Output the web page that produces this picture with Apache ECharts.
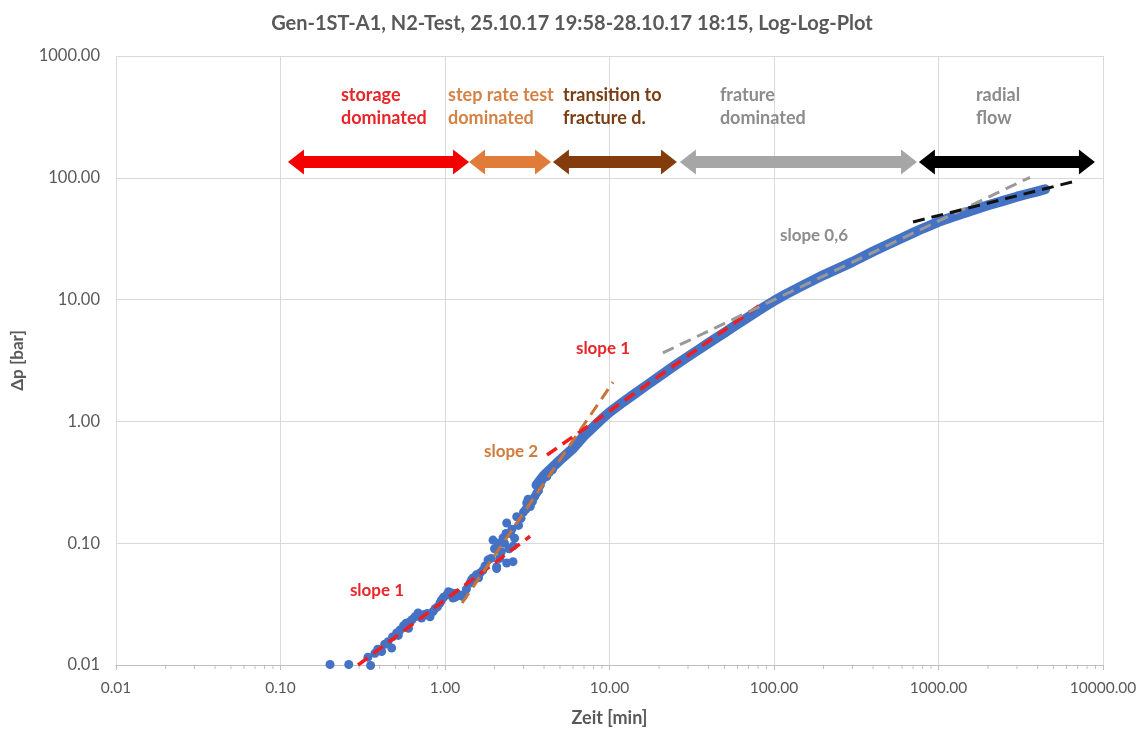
<!DOCTYPE html>
<html>
<head>
<meta charset="utf-8">
<script src="https://cdn.jsdelivr.net/npm/echarts@6/dist/echarts.min.js"></script>
<style>
html,body{margin:0;padding:0;background:#fff;}
#chart{width:1144px;height:733px;}
</style>
</head>
<body>
<div id="chart"></div>
<script>
// ---------- data ----------
// scattered early measurements [time min, dp bar]
const scatterTime = [0.20,0.26,0.353,0.34,0.375,0.39,0.412,0.43,0.45,0.474,0.48,0.508,0.52,0.533,0.56,0.58,0.60,0.612,0.63,0.657,0.686,0.70,0.721,0.75,0.78,0.811,0.845,0.87,0.90,0.932,0.95,0.98,1.024,1.05,1.10,1.118,1.15,1.178,1.20,1.286,1.30,1.35,1.419,1.45,1.479,1.55,1.60,1.633,1.70,1.75,1.826,1.90,1.958,2.00,2.062,2.06,2.10,2.15,2.20,2.252,2.30,2.35,2.372,2.372,2.45,2.50,2.55,2.591,2.60,2.65,2.729,2.80,2.90,3.00,3.10,3.139,3.20,3.30,3.40,3.50,3.609,3.70,3.80,3.90,4.15,4.30,4.50,4.776];
const scatterDp   = [0.0101,0.0101,0.0099,0.0116,0.0125,0.0135,0.0129,0.0148,0.0155,0.0138,0.017,0.0183,0.0175,0.0194,0.021,0.022,0.020,0.0227,0.0235,0.0249,0.0267,0.025,0.0243,0.026,0.0265,0.0249,0.0274,0.029,0.030,0.0323,0.034,0.036,0.0376,0.040,0.039,0.0355,0.036,0.0388,0.037,0.0364,0.038,0.042,0.0471,0.050,0.0518,0.055,0.052,0.0569,0.060,0.065,0.0728,0.075,0.106,0.090,0.0641,0.062,0.100,0.075,0.085,0.1103,0.100,0.120,0.0688,0.1465,0.090,0.120,0.130,0.0705,0.095,0.110,0.165,0.140,0.160,0.180,0.190,0.214,0.230,0.200,0.220,0.240,0.258,0.270,0.300,0.330,0.352,0.380,0.400,0.455];
// dense measurement band
const bandTime = [3.6,4.0,4.5,5,5.5,6,7,8,9,10,12,14,17,20,25,30,35,40,50,60,70,80,90,100,120,150,200,250,300,400,500,600,700,800,1000,1200,1500,2000,2500,3000,3500,4000,4450];
const bandDp   = [0.30,0.36,0.42,0.48,0.54,0.60,0.76,0.90,1.05,1.19,1.43,1.66,2.0,2.33,2.88,3.4,3.9,4.4,5.35,6.3,7.2,8.1,8.95,9.75,11.2,13.1,15.9,18.2,20.4,24.8,28.6,32,35.3,38.3,43.5,47.5,52.5,59.5,65,70,74,77.5,80.5];
// fitted slope lines [start, end]
const slope1aTime = [0.296, 3.29],  slope1aDp = [0.0100, 0.114];
const slope2Time  = [1.27, 10.5],   slope2Dp  = [0.0323, 2.10];
const slope1bTime = [4.17, 82.2],   slope1bDp = [0.53, 9.03];
const slope06Time = [21.1, 3600],   slope06Dp = [3.65, 101];
const radialTime  = [700, 6480],    radialDp  = [43.4, 92.4];
// flow regime arrows
const regimeNames = ['storage\ndominated','step rate test\ndominated','transition to\nfracture d.','frature\ndominated','radial\nflow'];
const regimeStart = [0.111, 1.40, 4.53, 26.8, 760];
const regimeEnd   = [1.40, 4.41, 25.7, 740, 8930];
const regimeLabelTime = [0.233, 1.043, 5.22, 46.9, 1690];
const regimeArrowDp = 135;
const regimeLabelDp = 589;
// slope labels
const slopeLabels = ['slope 1','slope 2','slope 1','slope 0,6'];
const slopeLabelTime = [0.386, 2.52, 9.13, 175];
const slopeLabelDp = [0.0405, 0.571, 4.0, 33.9];
// axis ticks
const xMinorMultipliers = [2,3,4,5,6,7,8,9];
const xDecades = [0.01,0.1,1,10,100,1000];

// ---------- styles ----------
const FONT = 'Lato, "Open Sans", sans-serif';
const regimeColors = ['#F40000','#E07B39','#843C0C','#A6A6A6','#000000'];
const regimeTextColors = ['#E8262A','#D48245','#7A3E14','#8C8C8C','#8C8C8C'];
const slopeColors = ['#E8262A','#D07A3B','#E8262A','#8C8C8C'];
const BLUE = '#4472C4';

const zip = (a,b)=>a.map((v,i)=>[v,b[i]]);
const minorTicks = [];
xDecades.forEach(d=>xMinorMultipliers.forEach(m=>minorTicks.push([d*m, 0.01])));

function dashLine(name, t, p, color, width){
  return {type:'line', name, data:zip(t,p), showSymbol:false, symbol:'none', silent:true, z:5,
    lineStyle:{color, width, type:[12,7], cap:'butt'}};
}

const chart = echarts.init(document.getElementById('chart'));
chart.setOption({
  animation:false,
  backgroundColor:'#ffffff',
  title:{text:'Gen-1ST-A1, N2-Test, 25.10.17 19:58-28.10.17 18:15, Log-Log-Plot', left:'center', top:9,
    textStyle:{fontFamily:FONT, fontSize:20, fontWeight:'bold', color:'#595959'}},
  grid:{left:116, right:41, top:56, bottom:68, containLabel:false},
  xAxis:{type:'log', logBase:10, min:0.01, max:10000,
    name:'Zeit [min]', nameLocation:'middle', nameGap:44,
    nameTextStyle:{fontFamily:FONT, fontSize:18, fontWeight:'bold', color:'#595959'},
    axisLine:{show:true, lineStyle:{color:'#BFBFBF', width:1}},
    axisTick:{show:true, length:5, lineStyle:{color:'#BFBFBF'}},
    axisLabel:{formatter:v=>Number(v).toFixed(2), fontFamily:FONT, fontSize:15.5, color:'#595959', margin:15},
    splitLine:{show:true, lineStyle:{color:'#D9D9D9', width:1}}},
  yAxis:{type:'log', logBase:10, min:0.01, max:1000,
    name:'Δp [bar]', nameLocation:'middle', nameGap:90, nameRotate:90,
    nameTextStyle:{fontFamily:FONT, fontSize:17, fontWeight:'bold', color:'#595959'},
    axisLine:{show:false}, axisTick:{show:false},
    axisLabel:{formatter:v=>Number(v).toFixed(2), fontFamily:FONT, fontSize:16.5, color:'#595959', margin:16},
    splitLine:{show:true, lineStyle:{color:'#D9D9D9', width:1}}},
  series:[
    {type:'custom', name:'minorTicks', silent:true, clip:false, z:1, data:minorTicks,
      renderItem:(params, api)=>{
        const p = api.coord([api.value(0), api.value(1)]);
        return {type:'line', shape:{x1:p[0], y1:p[1], x2:p[0], y2:p[1]+4}, style:{stroke:'#BFBFBF', lineWidth:1}};
      }},
    {type:'line', name:'band', data:zip(bandTime, bandDp), showSymbol:false, symbol:'none', z:3,
      lineStyle:{color:BLUE, width:10, cap:'round', join:'round'}},
    {type:'scatter', name:'points', data:zip(scatterTime, scatterDp), symbolSize:9, clip:false, z:3,
      itemStyle:{color:BLUE, opacity:1}},
    dashLine('slope1a', slope1aTime, slope1aDp, '#F01E1E', 3.5),
    dashLine('slope2', slope2Time, slope2Dp, '#C8733A', 3),
    dashLine('slope1b', slope1bTime, slope1bDp, '#F01E1E', 3.5),
    dashLine('slope06', slope06Time, slope06Dp, '#999999', 3),
    dashLine('radial', radialTime, radialDp, '#111111', 3),
    {type:'custom', name:'arrows', silent:true, clip:false, z:6,
      data:regimeStart.map((s,i)=>[s, regimeEnd[i], regimeArrowDp, i]),
      renderItem:(params, api)=>{
        const a = api.coord([api.value(0), api.value(2)]);
        const b = api.coord([api.value(1), api.value(2)]);
        const y = a[1], hl = 16, hh = 12.5, st = 6;
        const x1 = a[0], x2 = b[0];
        return {type:'polygon', shape:{points:[
          [x1,y],[x1+hl,y-hh],[x1+hl,y-st],[x2-hl,y-st],[x2-hl,y-hh],[x2,y],
          [x2-hl,y+hh],[x2-hl,y+st],[x1+hl,y+st],[x1+hl,y+hh]]},
          style:{fill:regimeColors[api.value(3)]}};
      }},
    {type:'custom', name:'regimeLabels', silent:true, clip:false, z:7,
      data:regimeLabelTime.map((t,i)=>[t, regimeLabelDp, i]),
      renderItem:(params, api)=>{
        const p = api.coord([api.value(0), api.value(1)]);
        const i = api.value(2);
        return {type:'text', x:p[0], y:p[1], style:{text:regimeNames[i], fill:regimeTextColors[i],
          font:'bold 18px '+FONT, lineHeight:23, textAlign:'left', textVerticalAlign:'top'}};
      }},
    {type:'custom', name:'slopeLabels', silent:true, clip:false, z:7,
      data:slopeLabelTime.map((t,i)=>[t, slopeLabelDp[i], i]),
      renderItem:(params, api)=>{
        const p = api.coord([api.value(0), api.value(1)]);
        const i = api.value(2);
        return {type:'text', x:p[0], y:p[1], style:{text:slopeLabels[i], fill:slopeColors[i],
          font:'bold 17px '+FONT, textAlign:'center', textVerticalAlign:'middle'}};
      }}
  ]
});
</script>
</body>
</html>
